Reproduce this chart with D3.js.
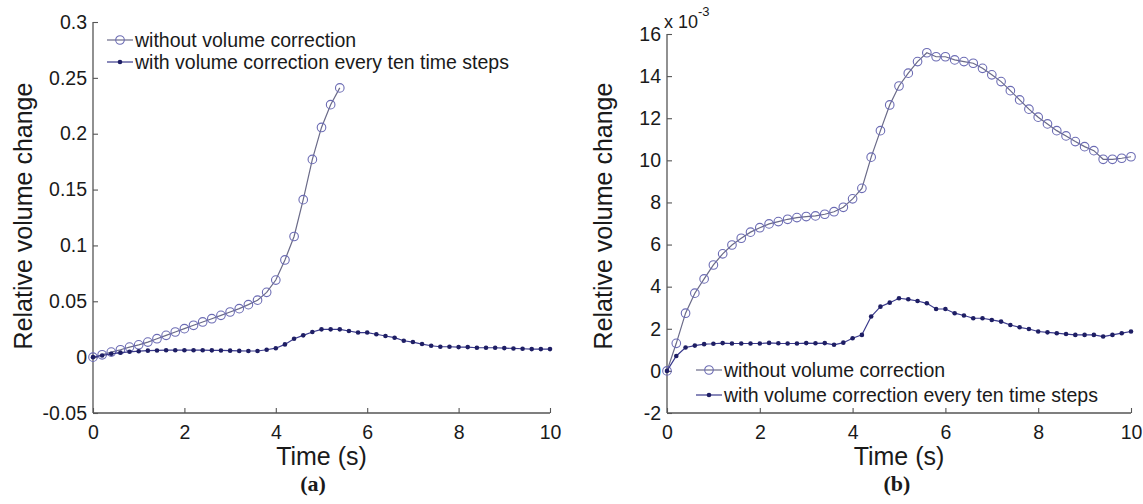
<!DOCTYPE html>
<html>
<head>
<meta charset="utf-8">
<script src="https://cdn.jsdelivr.net/npm/d3@7"></script>
<style>
  body { margin: 0; background: #fff; }
  svg { display: block; }
  text { font-family: "Liberation Sans", Arial, sans-serif; fill: #1a1a1a; }
  text.caption { font-family: "Liberation Serif", "Times New Roman", serif; font-weight: bold; }
</style>
</head>
<body>
<svg id="chart" width="1143" height="504"></svg>
<script>
// sample times (s), every 0.2 s
const time = [0, 0.2, 0.4, 0.6, 0.8, 1.0, 1.2, 1.4, 1.6, 1.8, 2.0, 2.2, 2.4, 2.6, 2.8, 3.0, 3.2, 3.4, 3.6, 3.8,
    4.0, 4.2, 4.4, 4.6, 4.8, 5.0, 5.2, 5.4, 5.6, 5.8, 6.0, 6.2, 6.4, 6.6, 6.8, 7.0, 7.2, 7.4, 7.6, 7.8,
    8.0, 8.2, 8.4, 8.6, 8.8, 9.0, 9.2, 9.4, 9.6, 9.8, 10.0];

// (a) without correction (simulation stops at 5.4 s)
const aWithout = [0, 0.0021, 0.0045, 0.0066, 0.009, 0.011, 0.0135, 0.0165, 0.0195, 0.0225, 0.0255, 0.0285,
    0.0315, 0.0344, 0.0374, 0.0404, 0.0434, 0.047, 0.051, 0.058, 0.069, 0.087, 0.108, 0.141, 0.177, 0.2056,
    0.226, 0.241];
// (a) with correction every ten time steps
const aWith = [0, 0.0015, 0.0030, 0.0040, 0.0048, 0.0053, 0.0058, 0.0060, 0.0062, 0.0062, 0.0062, 0.0062,
    0.0062, 0.0061, 0.0060, 0.0058, 0.0056, 0.0055, 0.0055, 0.0066, 0.008, 0.0114, 0.0165, 0.0195, 0.0225, 0.0249,
    0.0249, 0.0249, 0.0234, 0.022, 0.022, 0.0205, 0.0189, 0.0174, 0.0147, 0.0135, 0.0117, 0.0102, 0.0093, 0.0093,
    0.009, 0.009, 0.0084, 0.0084, 0.0084, 0.0081, 0.0078, 0.0075, 0.0072, 0.0072, 0.0072];

// (b) values in units of 1e-3
const bWithout = [0, 1.31, 2.74, 3.69, 4.37, 5.03, 5.56, 5.98, 6.3, 6.59, 6.8, 6.98, 7.09, 7.2, 7.28, 7.33,
    7.36, 7.44, 7.56, 7.77, 8.17, 8.67, 10.15, 11.41, 12.63, 13.53, 14.14, 14.69, 15.11, 14.92, 14.92, 14.77,
    14.69, 14.61, 14.37, 14.06, 13.74, 13.31, 12.87, 12.43, 12.05, 11.73, 11.41, 11.16, 10.89, 10.65, 10.46,
    10.05, 10.05, 10.1, 10.17];
const bWith = [0, 0.71, 1.11, 1.2, 1.27, 1.29, 1.32, 1.3, 1.3, 1.3, 1.3, 1.33, 1.31, 1.3, 1.3, 1.32, 1.31,
    1.32, 1.24, 1.34, 1.55, 1.71, 2.58, 3.05, 3.24, 3.45, 3.4, 3.32, 3.21, 2.94, 2.94, 2.74, 2.63, 2.5, 2.5,
    2.42, 2.34, 2.18, 2.07, 1.99, 1.87, 1.83, 1.79, 1.75, 1.71, 1.71, 1.71, 1.63, 1.71, 1.79, 1.87];

const xTicks = [0, 2, 4, 6, 8, 10];
const aYTicks = [-0.05, 0, 0.05, 0.1, 0.15, 0.2, 0.25, 0.3];
const bYTicks = [-2, 0, 2, 4, 6, 8, 10, 12, 14, 16];
const legendLabels = ['without volume correction', 'with volume correction every ten time steps'];

const svg = d3.select('#chart');
svg.append('rect').attr('width', 1143).attr('height', 504).attr('fill', '#fff');

const colOpen = '#6c6cb4';
const colOpenLine = '#6a6a88';
const colDot = '#1e1e64';
const colDotLine = '#3a3a8c';

function panel(opt) {
    const x = d3.scaleLinear().domain([0, 10]).range([opt.left, opt.right]);
    const y = d3.scaleLinear().domain(opt.yDomain).range([opt.bottom, opt.top]);
    const g = svg.append('g');

    // axes (box off, ticks inward)
    const xAxis = d3.axisBottom(x).tickValues(xTicks).tickSize(-5).tickPadding(12).tickFormat(d3.format('d'));
    const yAxis = d3.axisLeft(y).tickValues(opt.yTicks).tickSize(-5).tickPadding(6).tickFormat(opt.fmt);
    const gx = g.append('g').attr('transform', `translate(0,${opt.bottom})`).call(xAxis);
    const gy = g.append('g').attr('transform', `translate(${opt.left},0)`).call(yAxis);
    [gx, gy].forEach(a => {
        a.select('.domain').attr('stroke', '#555').attr('stroke-width', 1.3);
        a.selectAll('.tick line').attr('stroke', '#555').attr('stroke-width', 1.1);
        a.selectAll('.tick text').attr('font-size', 19.5).attr('fill', '#1a1a1a');
    });
    gx.select('.domain').attr('d', `M${opt.left},0H${opt.right}`);
    gy.select('.domain').attr('d', `M0,${opt.bottom}V${opt.top}`);

    const line = d3.line().x((d, i) => x(time[i])).y(d => y(d));

    // series with circles
    g.append('path').datum(opt.open).attr('d', line)
        .attr('fill', 'none').attr('stroke', colOpenLine).attr('stroke-width', 1.2);
    g.append('g').selectAll('circle').data(opt.open).join('circle')
        .attr('cx', (d, i) => x(time[i])).attr('cy', d => y(d)).attr('r', 4.3)
        .attr('fill', 'none').attr('stroke', colOpen).attr('stroke-width', 1.1);

    // series with dots
    g.append('path').datum(opt.dot).attr('d', line)
        .attr('fill', 'none').attr('stroke', colDotLine).attr('stroke-width', 1.2);
    g.append('g').selectAll('circle').data(opt.dot).join('circle')
        .attr('cx', (d, i) => x(time[i])).attr('cy', d => y(d)).attr('r', 2.3)
        .attr('fill', colDot);

    // axis titles
    g.append('text').attr('x', (opt.left + opt.right) / 2).attr('y', 465)
        .attr('text-anchor', 'middle').attr('font-size', 25).text('Time (s)');
    g.append('text').attr('transform', `translate(${opt.ylabX},216) rotate(-90)`)
        .attr('text-anchor', 'middle').attr('font-size', 25).text('Relative volume change');
    g.append('text').attr('class', 'caption').attr('x', opt.capX).attr('y', 491)
        .attr('text-anchor', 'middle').attr('font-size', 22).text(opt.caption);

    // legend
    const lg = g.append('g').attr('transform', `translate(${opt.legX},${opt.legY})`);
    legendLabels.forEach((lab, i) => {
        const row = lg.append('g').attr('transform', `translate(0,${i * opt.legGap})`);
        row.append('line').attr('x1', 0).attr('x2', 26).attr('y1', 0).attr('y2', 0)
            .attr('stroke', i === 0 ? colOpenLine : colDotLine).attr('stroke-width', 1.2);
        if (i === 0) {
            row.append('circle').attr('cx', 13).attr('cy', 0).attr('r', 4.3)
                .attr('fill', 'none').attr('stroke', colOpen).attr('stroke-width', 1.1);
        } else {
            row.append('circle').attr('cx', 13).attr('cy', 0).attr('r', 2.3).attr('fill', colDot);
        }
        row.append('text').attr('x', 28).attr('y', 0).attr('dy', '0.35em')
            .attr('font-size', 19.5).text(lab);
    });
    return g;
}

panel({
    left: 93, right: 550, top: 22, bottom: 413,
    yDomain: [-0.05, 0.3], yTicks: aYTicks, fmt: d => d3.format('~g')(d).replace('−', '-'),
    open: aWithout, dot: aWith, ylabX: 32, capX: 313, caption: '(a)',
    legX: 107, legY: 40, legGap: 22
});

const gb = panel({
    left: 667, right: 1131, top: 34, bottom: 413,
    yDomain: [-2, 16], yTicks: bYTicks, fmt: d => String(d),
    open: bWithout, dot: bWith, ylabX: 612, capX: 897, caption: '(b)',
    legX: 696, legY: 370, legGap: 25
});

// exponent label for panel (b)
const ex = gb.append('text').attr('x', 664).attr('y', 28).attr('font-size', 18);
ex.append('tspan').text('x 10');
ex.append('tspan').attr('dy', -12).attr('font-size', 13).text('-3');
</script>
</body>
</html>
